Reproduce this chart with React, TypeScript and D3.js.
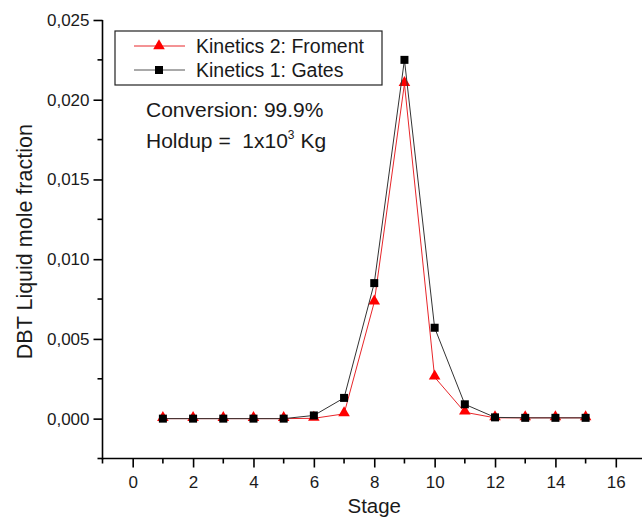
import React, { useRef, useEffect } from "react";
import * as d3 from "d3";

const stages = [1, 2, 3, 4, 5, 6, 7, 8, 9, 10, 11, 12, 13, 14, 15];
const froment = [0, 0, 0, 0, 0, 0.00002, 0.0003, 0.0073, 0.0210, 0.0026, 0.0004, 0.00005, 0.00005, 0.00005, 0.00005];
const gates = [0, 0, 0, 0, 0, 0.0002, 0.0013, 0.0085, 0.0225, 0.0057, 0.0009, 0.00008, 0.00005, 0.00005, 0.00005];
const xTicks = [0, 2, 4, 6, 8, 10, 12, 14, 16];
const yTicks = [0, 0.005, 0.01, 0.015, 0.02, 0.025];

const App = () => {
  const ref = useRef<SVGSVGElement>(null);

  useEffect(() => {
    const width = 642;
    const height = 519;
    const svg = d3.select(ref.current);
    svg.selectAll("*").remove();

    const font = "Liberation Sans, Arial, sans-serif";
    const ink = "#1a1a1a";

    const x = d3.scaleLinear().domain([-1, 17]).range([102.5, 646]);
    const y = d3.scaleLinear().domain([-0.0025, 0.025]).range([458.5, 20]);

    // y axis
    const yAxis = d3
      .axisLeft(y)
      .tickValues(yTicks)
      .tickSize(9)
      .tickFormat((d) => d3.format(".3f")(d as number).replace(".", ","));
    const gy = svg.append("g").attr("transform", `translate(${x(-1)},0)`).call(yAxis);
    gy.select(".domain").attr("stroke-width", 1.6).attr("d", `M0,${y(-0.0025) + 1}V${y(0.025)}`);
    gy.selectAll(".tick line").attr("stroke-width", 1.6);
    gy.selectAll(".tick text")
      .attr("font-family", font)
      .attr("font-size", 17)
      .attr("x", -13)
      .attr("fill", ink);
    const yMinor = d3.range(-0.0025, 0.0251, 0.005);
    gy.selectAll(".ymin")
      .data(yMinor)
      .enter()
      .append("line")
      .attr("x1", 0)
      .attr("x2", -5)
      .attr("y1", (d) => y(d))
      .attr("y2", (d) => y(d))
      .attr("stroke", "#000")
      .attr("stroke-width", 1.6);

    // x axis
    const xAxis = d3.axisBottom(x).tickValues(xTicks).tickSize(9).tickFormat(d3.format("d"));
    const gx = svg.append("g").attr("transform", `translate(0,${y(-0.0025)})`).call(xAxis);
    gx.select(".domain").attr("stroke-width", 1.6).attr("d", `M${x(-1)},0H${width}`);
    gx.selectAll(".tick line").attr("stroke-width", 1.6);
    gx.selectAll(".tick text")
      .attr("font-family", font)
      .attr("font-size", 17)
      .attr("y", 17)
      .attr("fill", ink);
    const xMinor = d3.range(-1, 17.1, 2);
    gx.selectAll(".xmin")
      .data(xMinor)
      .enter()
      .append("line")
      .attr("x1", (d) => x(d))
      .attr("x2", (d) => x(d))
      .attr("y1", 0)
      .attr("y2", 5)
      .attr("stroke", "#000")
      .attr("stroke-width", 1.6);

    // axis titles
    svg
      .append("text")
      .attr("x", x(8))
      .attr("y", 513)
      .attr("text-anchor", "middle")
      .attr("font-family", font)
      .attr("font-size", 20.5)
      .attr("fill", ink)
      .text("Stage");
    svg
      .append("text")
      .attr("transform", `translate(32,${y(0.0111)}) rotate(-90)`)
      .attr("text-anchor", "middle")
      .attr("font-family", font)
      .attr("font-size", 21.5)
      .attr("fill", ink)
      .text("DBT Liquid mole fraction");

    const line = d3
      .line<number>()
      .x((_, i) => x(stages[i]))
      .y((d) => y(d));

    const tri = d3.symbol().type(d3.symbolTriangle).size(58);
    const sq = d3.symbol().type(d3.symbolSquare).size(64);

    // Froment (red triangles)
    svg
      .append("path")
      .datum(froment)
      .attr("d", line)
      .attr("fill", "none")
      .attr("stroke", "#e8262a")
      .attr("stroke-width", 1);
    svg
      .selectAll(".tri")
      .data(froment)
      .enter()
      .append("path")
      .attr("transform", (d, i) => `translate(${x(stages[i])},${y(d) - 1})`)
      .attr("d", tri)
      .attr("fill", "#ff0000");

    // Gates (black squares)
    svg
      .append("path")
      .datum(gates)
      .attr("d", line)
      .attr("fill", "none")
      .attr("stroke", "#333")
      .attr("stroke-width", 1);
    svg
      .selectAll(".sq")
      .data(gates)
      .enter()
      .append("path")
      .attr("transform", (d, i) => `translate(${x(stages[i])},${y(d)})`)
      .attr("d", sq)
      .attr("fill", "#000");

    // legend
    const lg = svg.append("g");
    lg.append("rect")
      .attr("x", 115)
      .attr("y", 31)
      .attr("width", 267)
      .attr("height", 54)
      .attr("fill", "#fff")
      .attr("stroke", "#222")
      .attr("stroke-width", 1.2);
    const items = [
      { label: "Kinetics 2: Froment", color: "#e8262a", sym: tri, fill: "#ff0000", yy: 46 },
      { label: "Kinetics 1: Gates", color: "#555", sym: sq, fill: "#000", yy: 70 },
    ];
    items.forEach((it) => {
      lg.append("line")
        .attr("x1", 134)
        .attr("x2", 185)
        .attr("y1", it.yy)
        .attr("y2", it.yy)
        .attr("stroke", it.color)
        .attr("stroke-width", 1);
      lg.append("path")
        .attr("transform", `translate(159,${it.yy})`)
        .attr("d", it.sym)
        .attr("fill", it.fill);
      lg.append("text")
        .attr("x", 196)
        .attr("y", it.yy + 7)
        .attr("font-family", font)
        .attr("font-size", 19.5)
        .attr("fill", ink)
        .text(it.label);
    });

    // annotations
    svg
      .append("text")
      .attr("x", 146)
      .attr("y", 117)
      .attr("font-family", font)
      .attr("font-size", 21)
      .attr("fill", ink)
      .text("Conversion: 99.9%");
    const h = svg
      .append("text")
      .attr("x", 146)
      .attr("y", 148)
      .attr("font-family", font)
      .attr("font-size", 21)
      .attr("fill", ink)
      .style("white-space", "pre");
    h.append("tspan").text("Holdup =  1x10");
    h.append("tspan").attr("font-size", 12).attr("dy", -9).text("3");
    h.append("tspan").attr("dy", 9).text(" Kg");

    svg.attr("width", width).attr("height", height);
  }, []);

  return (
    <svg
      ref={ref}
      width={642}
      height={519}
      style={{ position: "absolute", left: 0, top: 0, background: "#fff" }}
    />
  );
};

export default App;
